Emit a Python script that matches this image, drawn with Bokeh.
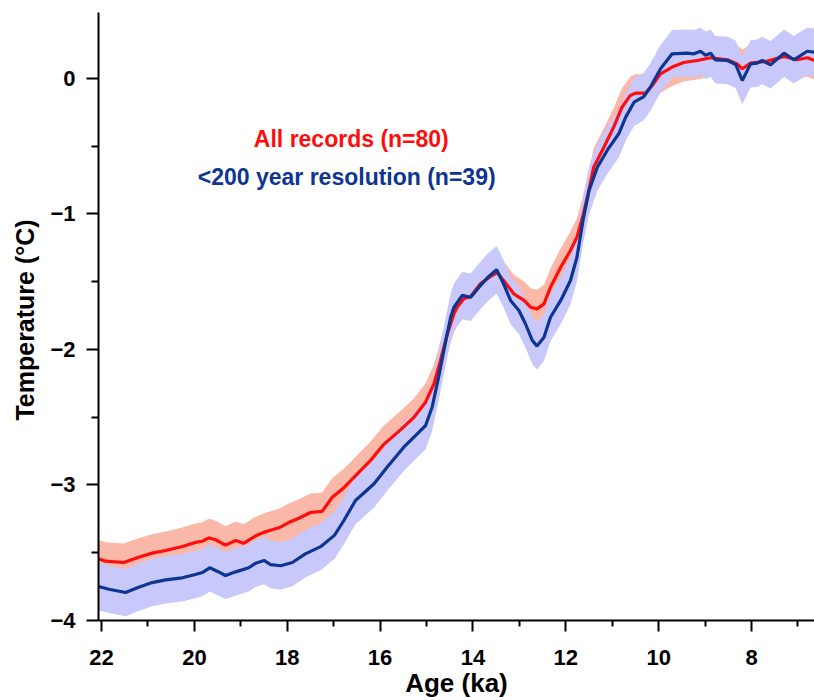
import numpy as np
from bokeh.plotting import figure
from bokeh.models import Range1d, FixedTicker, Label
from bokeh.embed import file_html
from bokeh.resources import INLINE

# ---------------- data ----------------
red_age = [22.13, 21.91, 21.52, 21.20, 20.91, 20.62, 20.26, 19.98, 19.83, 19.69,
           19.54, 19.33, 19.11, 18.94, 18.68, 18.47, 18.18, 17.97, 17.75, 17.50,
           17.25, 17.03, 16.78, 16.49, 16.21, 15.92, 15.56, 15.27, 15.02, 14.84,
           14.70, 14.55, 14.41, 14.34, 14.20, 14.05, 13.84, 13.62, 13.48, 13.34,
           13.12, 12.90, 12.76, 12.62, 12.47, 12.33, 12.11, 11.90, 11.76, 11.63,
           11.52, 11.40, 11.18, 10.97, 10.79, 10.61, 10.50, 10.28, 10.14, 9.96,
           9.71, 9.46, 9.17, 8.88, 8.52, 8.31, 8.20, 8.02, 7.66, 7.30,
           7.02, 6.80, 6.60]
red_temp = [-3.537, -3.562, -3.572, -3.533, -3.503, -3.483, -3.454, -3.424, -3.415, -3.390,
            -3.404, -3.444, -3.410, -3.430, -3.375, -3.345, -3.316, -3.277, -3.245, -3.203,
            -3.195, -3.090, -3.020, -2.918, -2.820, -2.700, -2.593, -2.500, -2.389, -2.253,
            -2.080, -1.884, -1.737, -1.688, -1.625, -1.609, -1.515, -1.461, -1.432, -1.491,
            -1.589, -1.638, -1.688, -1.700, -1.663, -1.540, -1.393, -1.269, -1.171, -1.010,
            -0.850, -0.654, -0.507, -0.359, -0.212, -0.125, -0.108, -0.108, -0.052, 0.034,
            0.084, 0.118, 0.133, 0.153, 0.138, 0.108, 0.072, 0.113, 0.128, 0.162,
            0.138, 0.153, 0.128]

blue_age = [22.13, 21.84, 21.48, 21.20, 20.91, 20.62, 20.26, 19.98, 19.83, 19.67,
            19.51, 19.33, 19.11, 18.83, 18.68, 18.50, 18.36, 18.14, 17.89, 17.61,
            17.28, 16.98, 16.78, 16.53, 16.13, 15.85, 15.49, 15.20, 15.02, 14.88,
            14.74, 14.57, 14.48, 14.41, 14.23, 14.05, 13.87, 13.69, 13.49, 13.34,
            13.19, 13.01, 12.87, 12.72, 12.62, 12.47, 12.33, 12.11, 11.90, 11.76,
            11.63, 11.50, 11.32, 11.11, 10.86, 10.71, 10.53, 10.32, 10.18, 9.96,
            9.71, 9.39, 9.24, 9.10, 8.99, 8.88, 8.78, 8.52, 8.34, 8.20,
            8.02, 7.88, 7.77, 7.59, 7.30, 7.09, 6.80, 6.60]
blue_temp = [-3.744, -3.769, -3.793, -3.754, -3.720, -3.700, -3.685, -3.660, -3.646, -3.611,
             -3.636, -3.668, -3.641, -3.611, -3.577, -3.557, -3.587, -3.596, -3.572, -3.508,
             -3.455, -3.370, -3.262, -3.114, -2.991, -2.869, -2.721, -2.622, -2.561, -2.426,
             -2.204, -1.910, -1.762, -1.688, -1.601, -1.614, -1.540, -1.471, -1.412, -1.515,
             -1.638, -1.712, -1.810, -1.934, -1.975, -1.909, -1.762, -1.638, -1.491, -1.319,
             -1.048, -0.827, -0.654, -0.531, -0.408, -0.285, -0.175, -0.133, -0.064, 0.072,
             0.182, 0.187, 0.182, 0.201, 0.172, 0.187, 0.138, 0.133, 0.103, -0.015,
             0.108, 0.113, 0.133, 0.101, 0.187, 0.138, 0.201, 0.192]

# half-width of the shaded uncertainty bands (degC)
red_band_halfwidth = 0.14
blue_band_halfwidth = 0.175

series_labels = ["All records (n=80)", "<200 year resolution (n=39)"]
x_major_ticks = [22, 20, 18, 16, 14, 12, 10, 8]
x_minor_ticks = [21, 19, 17, 15, 13, 11, 9, 7]
y_major_ticks = [0, -1, -2, -3, -4]
y_minor_ticks = [0.5, -0.5, -1.5, -2.5, -3.5]

# ---------------- styling ----------------
RED = "#ff0d0d"
BLUE = "#0d3593"
RED_BAND = "#f9b8a8"
BLUE_BAND = "#c8c8fa"
FONT = "Liberation Sans"

p = figure(frame_width=716, frame_height=608, output_backend="svg", toolbar_location=None,
           x_range=Range1d(22.065, 6.644), y_range=Range1d(-4.0, 0.487),
           min_border_left=98, min_border_right=0, min_border_top=12, min_border_bottom=80)
p.outline_line_color = None
p.xgrid.visible = False
p.ygrid.visible = False
p.background_fill_color = "white"
p.border_fill_color = "white"

ra = np.array(red_age)
rt = np.array(red_temp)
ba = np.array(blue_age)
bt = np.array(blue_temp)

p.varea(x=ra, y1=rt - red_band_halfwidth, y2=rt + red_band_halfwidth, fill_color=RED_BAND, fill_alpha=1.0)
p.varea(x=ba, y1=bt - blue_band_halfwidth, y2=bt + blue_band_halfwidth, fill_color=BLUE_BAND, fill_alpha=1.0)
p.line(ra, rt, line_color=RED, line_width=3.2)
p.line(ba, bt, line_color=BLUE, line_width=3.2)

# axes
for ax in (p.xaxis[0], p.yaxis[0]):
    ax.axis_line_width = 2
    ax.axis_line_color = "black"
    ax.major_tick_line_width = 2
    ax.minor_tick_line_width = 2
    ax.major_tick_in = 0
    ax.minor_tick_in = 0
    ax.major_label_text_font = FONT
    ax.major_label_text_font_style = "bold"
    ax.major_label_text_font_size = "22px"
    ax.major_label_text_color = "black"
    ax.axis_label_text_font = FONT
    ax.axis_label_text_font_style = "bold"
    ax.axis_label_text_color = "black"

p.xaxis.ticker = FixedTicker(ticks=x_major_ticks, minor_ticks=x_minor_ticks)
p.xaxis.major_tick_out = 11
p.xaxis.minor_tick_out = 6
p.xaxis.major_label_standoff = 18
p.xaxis.axis_label = "Age (ka)"
p.xaxis.axis_label_standoff = 0
p.xaxis.axis_label_text_font_size = "26px"

p.yaxis.ticker = FixedTicker(ticks=y_major_ticks, minor_ticks=y_minor_ticks)
p.yaxis.major_tick_out = 12
p.yaxis.minor_tick_out = 7
p.yaxis.major_label_standoff = 11
p.yaxis.axis_label = "Temperature  (°C)"
p.yaxis.axis_label_standoff = 8
p.yaxis.axis_label_text_font_size = "25px"

# legend-style labels
p.add_layout(Label(x=16.62, y=-0.443, text=series_labels[0], text_color=RED,
                   text_font=FONT, text_font_style="bold", text_font_size="23px",
                   text_align="center", text_baseline="middle"))
p.add_layout(Label(x=16.72, y=-0.73, text=series_labels[1], text_color=BLUE,
                   text_font=FONT, text_font_style="bold", text_font_size="23px",
                   text_align="center", text_baseline="middle"))

open("out.html", "w").write(file_html(p, INLINE))
